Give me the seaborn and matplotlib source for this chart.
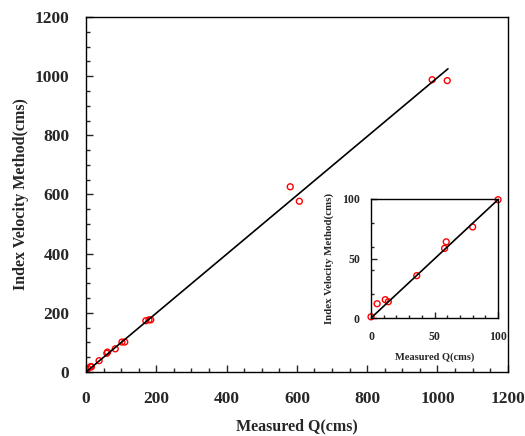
import numpy as np
import pandas as pd
import seaborn as sns
import matplotlib
matplotlib.use("Agg")
import matplotlib.pyplot as plt
from matplotlib.ticker import MultipleLocator, FixedLocator

# measured vs index velocity discharge (main plot)
measured_q = [1, 5, 13, 15, 37, 59, 61, 83, 102, 110, 170, 179, 184, 581, 607, 985, 1028]
index_q = [1, 12, 18, 17, 38, 63, 67, 78, 101, 101, 173, 176, 176, 626, 577, 988, 985]

# zoomed range 0-100
inset_measured = [0, 4.8, 11.2, 13.6, 36, 57.9, 59.2, 80, 100]
inset_index = [1, 12, 15.4, 13.7, 35.6, 58.5, 64, 76.5, 99.4]

# fitted line end points
fit_x = [0, 1030]
fit_slope = 0.995

sns.set_style("ticks")
plt.rcParams['font.family'] = ['Liberation Serif', 'DejaVu Serif']
plt.rcParams['font.weight'] = 'bold'

df = pd.DataFrame({"Measured": measured_q, "Index": index_q})
df_in = pd.DataFrame({"Measured": inset_measured, "Index": inset_index})
fit = pd.DataFrame({"x": fit_x, "y": [v * fit_slope for v in fit_x]})

fig = plt.figure(figsize=(5.25, 4.36), dpi=100)
ax = fig.add_axes([0.164, 0.147, 0.803, 0.814])

sns.lineplot(data=fit, x="x", y="y", color="black", lw=1.2, ax=ax)
sns.scatterplot(data=df, x="Measured", y="Index", ax=ax, marker="o",
                facecolor="none", edgecolor="red", linewidth=1, s=18)

ax.set_xlim(0, 1200)
ax.set_ylim(0, 1200)
ax.xaxis.set_major_locator(MultipleLocator(200))
ax.yaxis.set_major_locator(MultipleLocator(200))
ax.xaxis.set_minor_locator(MultipleLocator(50))
ax.yaxis.set_minor_locator(MultipleLocator(50))
ax.tick_params(which="major", direction="in", length=5, width=1, labelsize=12.5, pad=14)
ax.tick_params(axis="y", which="major", pad=12)
ax.tick_params(which="minor", direction="in", length=3, width=1)
for lab in ax.get_xticklabels() + ax.get_yticklabels():
    lab.set_fontweight("bold")
for sp in ax.spines.values():
    sp.set_linewidth(1)
    sp.set_color("black")
ax.set_xlabel("Measured Q(cms)", fontsize=11.5, fontweight="bold", labelpad=8)
ax.set_ylabel("Index Velocity Method(cms)", fontsize=11.5, fontweight="bold", labelpad=4)

# inset
axi = fig.add_axes([0.7067, 0.2706, 0.242, 0.273])
fit_in = pd.DataFrame({"x": [0, 102], "y": [0, 102 * fit_slope]})
sns.lineplot(data=fit_in, x="x", y="y", color="black", lw=1.2, ax=axi)
sns.scatterplot(data=df_in, x="Measured", y="Index", ax=axi, marker="o",
                facecolor="none", edgecolor="red", linewidth=1, s=18, clip_on=False)
axi.set_xlim(0, 100)
axi.set_ylim(0, 100)
axi.xaxis.set_major_locator(MultipleLocator(50))
axi.yaxis.set_major_locator(MultipleLocator(50))
axi.xaxis.set_minor_locator(MultipleLocator(10))
axi.yaxis.set_minor_locator(FixedLocator([20, 40, 60, 80]))
axi.tick_params(which="major", direction="in", length=4, width=1, labelsize=8.5, pad=9)
axi.tick_params(axis="y", which="major", pad=8)
axi.tick_params(which="minor", direction="in", length=2.5, width=1)
for lab in axi.get_xticklabels() + axi.get_yticklabels():
    lab.set_fontweight("bold")
for sp in axi.spines.values():
    sp.set_linewidth(1)
    sp.set_color("black")
axi.set_xlabel("Measured Q(cms)", fontsize=7.5, fontweight="bold", labelpad=7)
axi.set_ylabel("Index Velocity Method(cms)", fontsize=7.8, fontweight="bold", labelpad=6)

fig.savefig("out.png", dpi=100)
